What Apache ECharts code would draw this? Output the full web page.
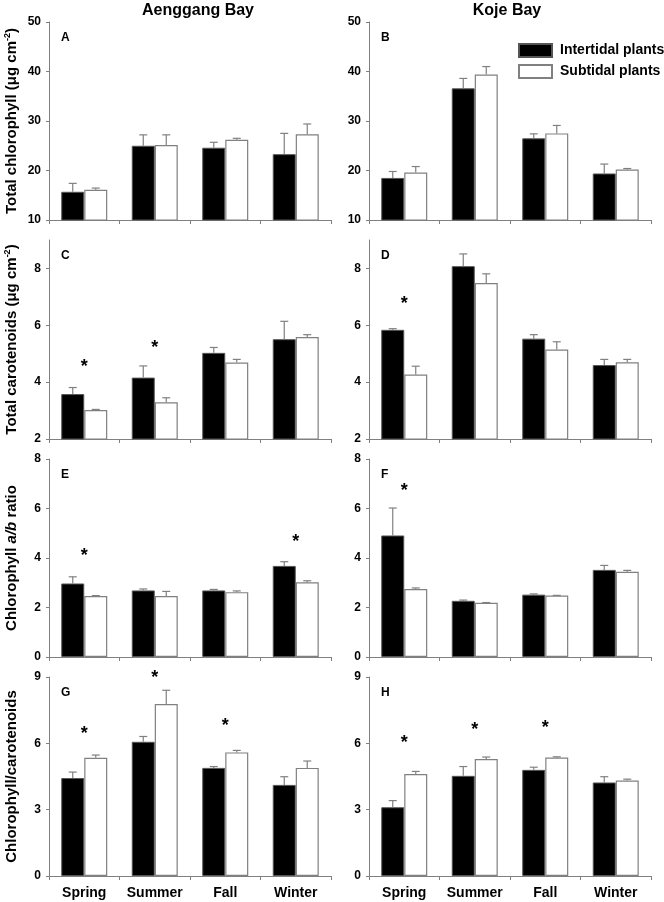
<!DOCTYPE html>
<html>
<head>
<meta charset="utf-8">
<script src="https://cdn.jsdelivr.net/npm/echarts@6/dist/echarts.min.js"></script>
<style>html,body{margin:0;padding:0;background:#fff}#c{width:664px;height:902px}</style>
</head>
<body>
<div id="c"></div>
<script>
// ---------------- DATA ----------------
const seasons = ['Spring', 'Summer', 'Fall', 'Winter'];
const seriesNames = ['Intertidal plants', 'Subtidal plants'];
const bayTitles = ['Aenggang Bay', 'Koje Bay'];
const panelLetters = ['A', 'B', 'C', 'D', 'E', 'F', 'G', 'H'];

// A: Aenggang total chlorophyll
const A_inter = [15.7, 25.0, 24.6, 23.3];
const A_interSE = [1.7, 2.2, 1.1, 4.2];
const A_sub = [16.1, 25.15, 26.2, 27.3];
const A_subSE = [0.35, 2.05, 0.3, 2.1];
const A_stars = [];
// B: Koje total chlorophyll
const B_inter = [18.5, 36.6, 26.5, 19.4];
const B_interSE = [1.3, 2.0, 0.9, 1.9];
const B_sub = [19.6, 39.4, 27.5, 20.2];
const B_subSE = [1.2, 1.6, 1.6, 0.2];
const B_stars = [];
// C: Aenggang total carotenoids
const C_inter = [3.58, 4.16, 5.03, 5.51];
const C_interSE = [0.23, 0.41, 0.19, 0.63];
const C_sub = [3.02, 3.29, 4.69, 5.59];
const C_subSE = [0.02, 0.16, 0.11, 0.08];
const C_stars = [[0, 4.54], [1, 5.2]];
// D: Koje total carotenoids
const D_inter = [5.84, 8.08, 5.53, 4.60];
const D_interSE = [0.04, 0.43, 0.14, 0.20];
const D_sub = [4.27, 7.49, 5.15, 4.70];
const D_subSE = [0.29, 0.32, 0.27, 0.10];
const D_stars = [[0, 6.76]];
// E: Aenggang chlorophyll a/b
const E_inter = [2.97, 2.69, 2.69, 3.68];
const E_interSE = [0.27, 0.06, 0.04, 0.17];
const E_sub = [2.46, 2.46, 2.62, 3.02];
const E_subSE = [0.02, 0.19, 0.05, 0.06];
const E_stars = [[0, 4.08], [3, 4.63]];
// F: Koje chlorophyll a/b
const F_inter = [4.91, 2.27, 2.52, 3.52];
const F_interSE = [1.11, 0.03, 0.03, 0.18];
const F_sub = [2.75, 2.19, 2.48, 3.44];
const F_subSE = [0.04, 0.01, 0.01, 0.06];
const F_stars = [[0, 6.71]];
// G: Aenggang chlorophyll/carotenoids
const G_inter = [4.43, 6.07, 4.89, 4.12];
const G_interSE = [0.27, 0.24, 0.06, 0.37];
const G_sub = [5.35, 7.78, 5.59, 4.89];
const G_subSE = [0.12, 0.62, 0.09, 0.31];
const G_stars = [[0, 6.42], [1, 8.96], [2, 6.77]];
// H: Koje chlorophyll/carotenoids
const H_inter = [3.11, 4.53, 4.80, 4.23];
const H_interSE = [0.30, 0.42, 0.12, 0.26];
const H_sub = [4.61, 5.29, 5.36, 4.32];
const H_subSE = [0.12, 0.09, 0.03, 0.06];
const H_stars = [[0, 6.01], [1, 6.62], [2, 6.69]];

// axis ranges per row
const rowMin = [10, 2, 0, 0];
const rowMax = [50, 9, 8, 9];
const rowInterval = [10, 2, 2, 3];
const rowTicks = [[10, 20, 30, 40, 50], [2, 4, 6, 8], [0, 2, 4, 6, 8], [0, 3, 6, 9]];
const rowTitles = [
  '{a|Total chlorophyll (μg cm}{s|-2}{a|)}',
  '{a|Total carotenoids (μg cm}{s|-2}{a|)}',
  '{a|Chlorophyll }{i|a/b}{a| ratio}',
  '{a|Chlorophyll/carotenoids}'
];

const panels = [
  [A_inter, A_interSE, A_sub, A_subSE, A_stars],
  [B_inter, B_interSE, B_sub, B_subSE, B_stars],
  [C_inter, C_interSE, C_sub, C_subSE, C_stars],
  [D_inter, D_interSE, D_sub, D_subSE, D_stars],
  [E_inter, E_interSE, E_sub, E_subSE, E_stars],
  [F_inter, F_interSE, F_sub, F_subSE, F_stars],
  [G_inter, G_interSE, G_sub, G_subSE, G_stars],
  [H_inter, H_interSE, H_sub, H_subSE, H_stars]
];

// ---------------- LAYOUT ----------------
const FONT = '"Liberation Sans", Arial, Helvetica, sans-serif';
const colLeft = [49, 369];
const plotW = 282;
const rowTop = [22, 240, 459, 677];
const rowH = [198, 199, 198, 199];
const BARW = 23;
const AXC = '#808080';

const chart = echarts.init(document.getElementById('c'));
const grid = [], xAxis = [], yAxis = [], series = [], graphic = [];

panels.forEach((p, k) => {
  const row = Math.floor(k / 2), col = k % 2;
  grid.push({left: colLeft[col], top: rowTop[row], width: plotW, height: rowH[row], containLabel: false});
  xAxis.push({
    type: 'category', gridIndex: k, data: seasons, boundaryGap: true,
    axisLine: {lineStyle: {color: AXC, width: 1}},
    axisTick: {show: true, length: 4, lineStyle: {color: AXC}},
    axisLabel: {show: row === 3, interval: 0, color: '#000', fontFamily: FONT, fontWeight: 'bold', fontSize: 14, margin: 10},
    splitLine: {show: false}
  });
  yAxis.push({
    type: 'value', gridIndex: k, min: rowMin[row], max: rowMax[row], interval: rowInterval[row],
    axisLine: {show: true, lineStyle: {color: AXC, width: 1}},
    axisTick: {show: true, length: 3, lineStyle: {color: AXC}, customValues: rowTicks[row]},
    axisLabel: {color: '#000', fontFamily: FONT, fontWeight: 'bold', fontSize: 12, margin: 8, customValues: rowTicks[row]},
    splitLine: {show: false},
    name: col === 0 ? rowTitles[row] : '',
    nameLocation: 'middle', nameRotate: 90, nameGap: 28,
    nameTextStyle: {
      rich: {
        a: {fontFamily: FONT, fontWeight: 'bold', fontSize: 15, color: '#000', lineHeight: 18},
        i: {fontFamily: FONT, fontWeight: 'bold', fontStyle: 'italic', fontSize: 15, color: '#000', lineHeight: 18},
        s: {fontFamily: FONT, fontWeight: 'bold', fontSize: 9, color: '#000', verticalAlign: 'top', lineHeight: 18, padding: [0, 0, 8, 0]}
      }
    }
  });
  const [inter, interSE, sub, subSE, stars] = p;
  series.push({
    name: seriesNames[0], type: 'bar', xAxisIndex: k, yAxisIndex: k, data: inter,
    barWidth: BARW, barGap: '0%',
    itemStyle: {color: '#000', borderColor: '#555', borderWidth: 1},
    emphasis: {disabled: true}, z: 2
  });
  series.push({
    name: seriesNames[1], type: 'bar', xAxisIndex: k, yAxisIndex: k, data: sub,
    barWidth: BARW, barGap: '0%',
    itemStyle: {color: '#fff', borderColor: '#808080', borderWidth: 1.2},
    emphasis: {disabled: true}, z: 2
  });
  const errData = [];
  inter.forEach((v, i) => errData.push([i, v, interSE[i], -1]));
  sub.forEach((v, i) => errData.push([i, v, subSE[i], 1]));
  series.push({
    type: 'custom', xAxisIndex: k, yAxisIndex: k, data: errData, z: 3, silent: true,
    renderItem: function (params, api) {
      const i = api.value(0), m = api.value(1), se = api.value(2), side = api.value(3);
      const base = api.coord([i, m]);
      const top = api.coord([i, m + se]);
      const x = base[0] + side * BARW / 2;
      return {
        type: 'group',
        children: [
          {type: 'line', shape: {x1: x, y1: base[1], x2: x, y2: top[1]}, style: {stroke: '#808080', lineWidth: 1.2}},
          {type: 'line', shape: {x1: x - 4, y1: top[1], x2: x + 4, y2: top[1]}, style: {stroke: '#808080', lineWidth: 1.2}}
        ]
      };
    }
  });
  if (stars.length) {
    series.push({
      type: 'custom', xAxisIndex: k, yAxisIndex: k, data: stars, z: 4, silent: true,
      renderItem: function (params, api) {
        const pt = api.coord([api.value(0), api.value(1)]);
        return {
          type: 'text', x: pt[0], y: pt[1],
          style: {text: '*', fontFamily: FONT, fontWeight: 'bold', fontSize: 18, fill: '#000', align: 'center', verticalAlign: 'middle'}
        };
      }
    });
  }
  graphic.push({
    type: 'text', x: colLeft[col] + 12, y: rowTop[row] + 16,
    style: {text: panelLetters[k], fontFamily: FONT, fontWeight: 'bold', fontSize: 12, fill: '#000', align: 'left', verticalAlign: 'middle'}
  });
});

graphic.push({type: 'text', x: 198, y: 11, style: {text: bayTitles[0], fontFamily: FONT, fontWeight: 'bold', fontSize: 16, fill: '#000', align: 'center', verticalAlign: 'middle'}});
graphic.push({type: 'text', x: 507, y: 11, style: {text: bayTitles[1], fontFamily: FONT, fontWeight: 'bold', fontSize: 16, fill: '#000', align: 'center', verticalAlign: 'middle'}});

chart.setOption({
  animation: false,
  backgroundColor: '#fff',
  grid, xAxis, yAxis, series, graphic,
  legend: {
    data: seriesNames, orient: 'vertical', left: 518, top: 43, padding: 0,
    itemWidth: 33, itemHeight: 13, itemGap: 6, icon: 'rect',
    selectedMode: false,
    textStyle: {fontFamily: FONT, fontWeight: 'bold', fontSize: 14, color: '#000', padding: [0, 0, 0, 3]}
  }
});
</script>
</body>
</html>
